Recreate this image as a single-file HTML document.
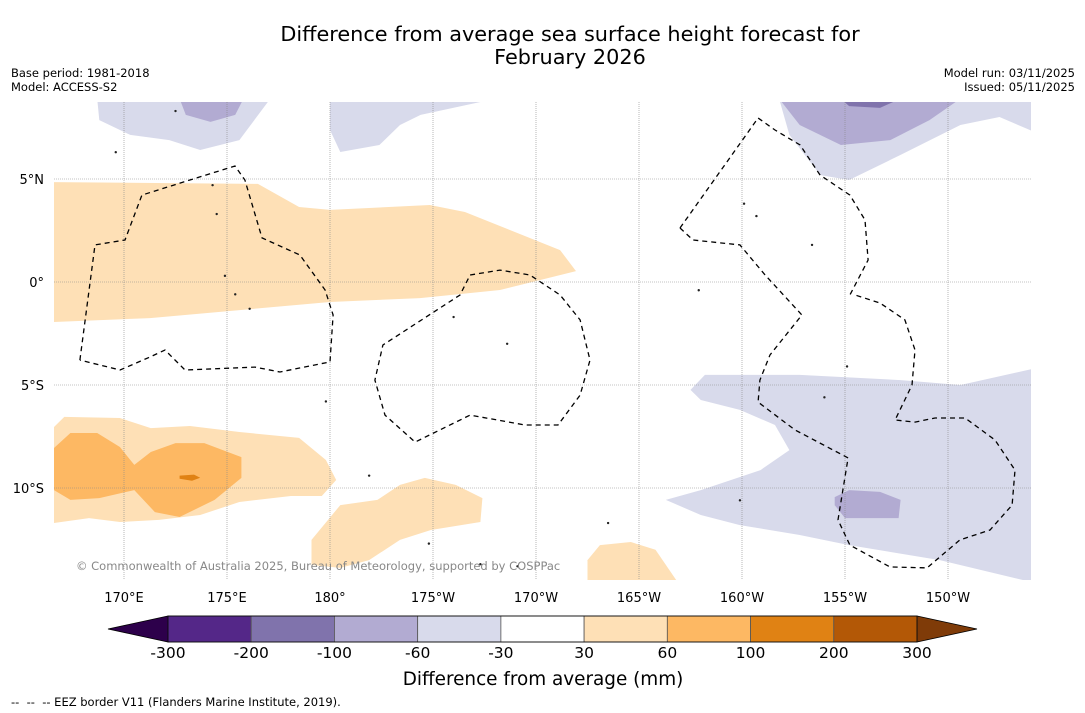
<!DOCTYPE html>
<html><head><meta charset="utf-8"><style>
html,body{margin:0;padding:0;background:#fff;}
svg{display:block;font-family:"DejaVu Sans","Liberation Sans",sans-serif;}
</style></head><body>
<svg id="chart" width="1085" height="713" viewBox="0 0 1085 713">
<text x="570" y="41" text-anchor="middle" font-size="20.8">Difference from average sea surface height forecast for</text>
<text x="570" y="64" text-anchor="middle" font-size="20.8">February 2026</text>
<text x="11" y="77" font-size="11.5">Base period: 1981-2018</text>
<text x="11" y="91" font-size="11.5">Model: ACCESS-S2</text>
<text x="1075" y="77" font-size="11.5" text-anchor="end">Model run: 03/11/2025</text>
<text x="1075" y="91" font-size="11.5" text-anchor="end">Issued: 05/11/2025</text>
<defs><clipPath id="mapclip"><rect x="54" y="102" width="977" height="478"/></clipPath></defs>
<g id="map" clip-path="url(#mapclip)"></g>
<g id="axes"></g>
<g id="cbar"></g>
<text x="543" y="685" text-anchor="middle" font-size="18.4">Difference from average (mm)</text>
<text x="11" y="706" font-size="11.5">-- &#160;-- &#160;-- EEZ border V11 (Flanders Marine Institute, 2019).</text>
</svg>
<script>
const lonTicks=[170,175,180,185,190,195,200,205,210];
const lonLabels=["170°E","175°E","180°","175°W","170°W","165°W","160°W","155°W","150°W"];
const latTicks=[5,0,-5,-10];
const latLabels=["5°N","0°","5°S","10°S"];
const levels=[-300,-200,-100,-60,-30,30,60,100,200,300];
const levelColors=["#542788","#8073ac","#b2abd2","#d8daeb","#ffffff","#fee0b6","#fdb863","#e08214","#b35806"];
const extendColors=["#2d004b","#7f3b08"];
const orangeBand=[[166.6,4.85],[176.5,4.76],[178.5,3.64],[180,3.5],[184.85,3.74],[186.55,3.4],[191.17,1.55],[191.94,0.53],[188.25,-0.39],[184.37,-0.78],[180,-0.97],[171.26,-1.75],[166.6,-1.94]];
const orangeSW=[[166.6,-7.04],[167.1,-6.55],[169.8,-6.6],[171.3,-7.09],[173.2,-6.99],[175.6,-7.28],[178.5,-7.57],[179.8,-8.64],[180.3,-9.61],[179.6,-10.39],[178.1,-10.39],[175.6,-10.68],[173.7,-11.31],[171.7,-11.55],[169.8,-11.65],[168.3,-11.46],[166.6,-11.7]];
const orangeSWdark=[[166.6,-8.06],[167.4,-7.33],[168.7,-7.33],[169.8,-8.01],[170.5,-8.88],[171.3,-8.25],[172.5,-7.82],[173.9,-7.82],[175.7,-8.5],[175.7,-9.51],[174.4,-10.58],[172.7,-11.41],[171.5,-11.17],[170.5,-10.1],[168.8,-10.49],[167.4,-10.58],[166.6,-10.1]];
const orangeSWcore=[[172.7,-9.4],[173.4,-9.35],[173.7,-9.5],[173.3,-9.65],[172.7,-9.55]];
const orangeS=[[179.1,-12.52],[180.5,-10.83],[182.3,-10.58],[183.4,-9.85],[184.6,-9.51],[186.1,-9.85],[187.4,-10.49],[187.3,-11.65],[184.9,-12.04],[183.4,-12.52],[181.9,-13.5],[180.5,-13.88],[179.1,-13.74]];
const orangeSE=[[192.5,-13.5],[193.1,-12.77],[194.6,-12.62],[195.8,-13.0],[196.9,-14.6],[192.5,-14.6]];
const purpleNW=[[168.7,8.9],[177.1,8.9],[175.6,6.89],[173.7,6.41],[172.2,6.89],[170.3,7.14],[168.8,7.86]];
const purpleNWdark=[[172.7,8.9],[175.8,8.9],[175.4,8.11],[174.2,7.77],[173.0,8.11]];
const purpleN=[[180,8.9],[187.3,8.9],[187.3,8.74],[184.4,8.11],[183.4,7.62],[182.4,6.65],[180.5,6.31],[180,7.38]];
const purpleNE=[[201.8,8.9],[214.2,8.9],[214.2,7.28],[212.5,8.01],[210.6,7.62],[207.7,6.17],[205.2,4.95],[203.8,5.19],[202.3,7.14]];
const purpleNEdark=[[201.8,8.9],[210.6,8.9],[209.1,7.86],[207.2,6.89],[204.8,6.65],[202.8,7.62]];
const purpleNEdarkest=[[204.8,8.9],[207.7,8.9],[206.7,8.45],[205.2,8.54]];
const purpleSE=[[197.5,-5.24],[198.2,-4.51],[202.8,-4.51],[207.7,-4.76],[210.6,-5.0],[214.2,-4.2],[214.2,-14.6],[209.6,-13.5],[205.2,-12.77],[202.8,-12.28],[199.9,-11.8],[198.0,-11.31],[196.3,-10.58],[198.0,-10.1],[200.9,-9.13],[202.3,-8.16],[201.6,-6.94],[199.9,-6.21],[198.0,-5.73]];
const purpleSEdark=[[204.5,-10.44],[205.2,-10.1],[206.7,-10.19],[207.7,-10.58],[207.6,-11.46],[205.0,-11.46],[204.5,-10.83]];
const regions=[[5,orangeBand],[5,orangeSW],[6,orangeSWdark],[7,orangeSWcore],[5,orangeS],[5,orangeSE],[3,purpleNW],[2,purpleNWdark],[3,purpleN],[3,purpleNE],[2,purpleNEdark],[1,purpleNEdarkest],[3,purpleSE],[2,purpleSEdark]];
const eezLines=[
 [[167.86,-3.79],[168.59,1.8],[170.05,2.04],[170.87,4.22],[173.2,4.95],[175.39,5.63],[175.87,4.95],[176.7,2.14],[178.54,1.31],[179.76,-0.39],[180.15,-1.6],[180.0,-3.88],[177.57,-4.37],[176.36,-4.13],[172.96,-4.27],[171.99,-3.3],[171.26,-3.64],[169.81,-4.27],[167.86,-3.79]],
 [[186.8,0.34],[188.25,0.58],[189.71,0.34],[191.17,-0.63],[192.14,-1.84],[192.62,-3.79],[192.14,-5.49],[191.07,-6.94],[189.47,-6.94],[186.8,-6.46],[184.13,-7.77],[182.67,-6.46],[182.18,-4.76],[182.57,-3.06],[186.31,-0.63],[186.8,0.34]],
 [[196.99,2.62],[200.78,7.96],[201.6,7.38],[202.82,6.65],[203.79,5.19],[205.24,4.22],[205.97,3.01],[206.12,1.07],[205.24,-0.63]],
 [[196.99,2.62],[197.62,2.04],[199.9,1.8],[201.12,0.34],[202.91,-1.6],[201.36,-3.54],[200.87,-4.76],[200.78,-5.83],[202.57,-7.18],[205.15,-8.54],[204.66,-11.55],[205.24,-12.77],[207.18,-13.83],[208.98,-13.88],[210.58,-12.52],[212.04,-12.04],[213.11,-10.83],[213.25,-9.13],[212.28,-7.67],[210.83,-6.6],[209.37,-6.6],[208.4,-6.8],[207.43,-6.7],[208.25,-5.0],[208.4,-3.3],[207.91,-1.84],[206.7,-1.02],[205.49,-0.63]]
];
const islands=[[174.3,4.7],[174.5,3.3],[174.9,0.3],[175.4,-0.6],[176.1,-1.3],[179.8,-5.8],[181.9,-9.4],[184.8,-12.7],[187.3,-13.7],[189.1,-13.8],[197.9,-0.4],[200.1,3.8],[200.7,3.2],[203.4,1.8],[205.1,-4.1],[204.0,-5.6],[199.9,-10.6],[193.5,-11.7],[186.0,-1.7],[188.6,-3.0],[172.5,8.3],[169.6,6.3]];

function X(lon){return 124+(lon-170)*20.6;}
function Y(lat){return 282-lat*20.6;}
const NS="http://www.w3.org/2000/svg";
function mk(tag,attrs,parent){const e=document.createElementNS(NS,tag);for(const k in attrs)e.setAttribute(k,attrs[k]);parent.appendChild(e);return e;}
const map=document.getElementById('map');
const axes=document.getElementById('axes');
const cbar=document.getElementById('cbar');
function pts(arr){return arr.map(p=>X(p[0]).toFixed(1)+','+Y(p[1]).toFixed(1)).join(' ');}
regions.forEach((r,i)=>{
 const p=mk('polygon',{points:pts(r[1]),fill:levelColors[r[0]],stroke:'none'},map);
 
 
});
islands.forEach((p,i)=>{
 const c=mk('circle',{cx:X(p[0]),cy:Y(p[1]),r:1.2,fill:'#222'},map);
 
 
});
lonTicks.forEach((lon,i)=>{
 const l=mk('line',{x1:X(lon),x2:X(lon),y1:102,y2:580,stroke:'#888','stroke-width':0.6,'stroke-dasharray':'1,1'},map);
 
 
 const t=mk('text',{x:X(lon),y:602,'text-anchor':'middle','font-size':13},axes);
 t.textContent=lonLabels[i];
 
 
});
latTicks.forEach((lat,i)=>{
 const l=mk('line',{x1:54,x2:1031,y1:Y(lat),y2:Y(lat),stroke:'#888','stroke-width':0.6,'stroke-dasharray':'1,1'},map);
 
 
 const t=mk('text',{x:44,y:Y(lat)+5,'text-anchor':'end','font-size':13},axes);
 t.textContent=latLabels[i];
 
 
});
eezLines.forEach(line=>{
 const pl=mk('polyline',{points:pts(line),fill:'none',stroke:'#000','stroke-width':1.3,'stroke-dasharray':'5,4'},map);
 
 
});
const cr=mk('text',{x:76,y:570,'font-size':11.5,fill:'#888'},map);
cr.textContent='© Commonwealth of Australia 2025, Bureau of Meteorology, supported by COSPPac';


const cx0=168,cx1=917,cy0=616,cy1=642,n=levelColors.length,w=(cx1-cx0)/n;
function CX(i){return cx0+i*w;}
const lt=mk('polygon',{points:`108,629 ${cx0},${cy0} ${cx0},${cy1}`,fill:extendColors[0],stroke:'#000','stroke-width':0.8},cbar);


const rt=mk('polygon',{points:`977,629 ${cx1},${cy0} ${cx1},${cy1}`,fill:extendColors[1],stroke:'#000','stroke-width':0.8},cbar);


levelColors.forEach((c,i)=>{
 const r=mk('rect',{x:CX(i),y:cy0,width:w,height:cy1-cy0,fill:c,stroke:'#555','stroke-width':0.8},cbar);
 
 
});
mk('rect',{x:cx0,y:cy0,width:cx1-cx0,height:cy1-cy0,fill:'none',stroke:'#000','stroke-width':0.8},cbar);
levels.forEach((v,i)=>{
 const t=mk('text',{x:CX(i),y:658,'text-anchor':'middle','font-size':15.5},cbar);
 t.textContent=String(v);
 
 
});
</script>
</body></html>
